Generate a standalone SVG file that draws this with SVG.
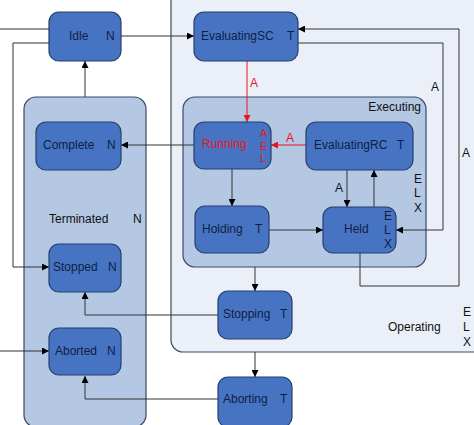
<svg xmlns="http://www.w3.org/2000/svg" width="474" height="425" viewBox="0 0 474 425">
<defs>
<marker id="ah" viewBox="0 0 10 10" refX="10" refY="5" markerWidth="7" markerHeight="7" orient="auto" markerUnits="userSpaceOnUse"><path d="M0,0 L10,5 L0,10 z" fill="#000"/></marker>
<marker id="ahr" viewBox="0 0 10 10" refX="10" refY="5" markerWidth="7" markerHeight="7" orient="auto" markerUnits="userSpaceOnUse"><path d="M0,0 L10,5 L0,10 z" fill="#e8141c"/></marker>
<style>
text{font-family:"Liberation Sans",Arial,sans-serif;font-size:12px;fill:#0f1e45}
.node{fill:#4774c2;stroke:#253f6e;stroke-width:1.2}
.cont{fill:#b4c7e3;stroke:#3b4a66;stroke-width:1.2}
.op{fill:#ebf0f8;stroke:#3b4a66;stroke-width:1.2}
.c{fill:none;stroke:#333;stroke-width:1}
.cr{fill:none;stroke:#e8141c;stroke-width:1}
.lbl{fill:#111}
.red{fill:#e8141c}
.sm{font-size:11px}
</style>
</defs>
<g id="Operating">
<rect class="op" x="171" y="-12" width="315" height="364" rx="12"/>
<text x="388" y="331" class="lbl">Operating</text>
<text x="463" y="316" class="lbl">E</text>
<text x="463" y="331" class="lbl">L</text>
<text x="463" y="346" class="lbl">X</text>
</g>
<g id="Terminated">
<rect class="cont" x="24" y="97" width="122" height="330" rx="12"/>
<text x="49" y="223" class="lbl">Terminated</text>
<text x="133" y="223" class="lbl">N</text>
</g>
<g id="Executing">
<rect class="cont" x="183" y="97" width="243" height="170" rx="12"/>
<text x="421" y="111" class="lbl" text-anchor="end">Executing</text>
<text x="414" y="183" class="lbl">E</text>
<text x="414" y="197" class="lbl">L</text>
<text x="414" y="212" class="lbl">X</text>
</g>
<g id="connectors">
<path class="c" d="M0,29 H49"/>
<path class="c" d="M49,43 H13 V267 H49" marker-end="url(#ah)"/>
<path class="c" d="M0,351 H49" marker-end="url(#ah)"/>
<path class="c" d="M121,36 H194" marker-end="url(#ah)"/>
<path class="c" d="M85,97 V61" marker-end="url(#ah)"/>
<path class="cr" d="M247,61 V122" marker-end="url(#ahr)"/>
<path class="cr" d="M306,145 H271" marker-end="url(#ahr)"/>
<path class="c" d="M194,145 H121" marker-end="url(#ah)"/>
<path class="c" d="M232,169 V206" marker-end="url(#ah)"/>
<path class="c" d="M269,230 H323" marker-end="url(#ah)"/>
<path class="c" d="M347,170 V207" marker-end="url(#ah)"/>
<path class="c" d="M374,207 V170" marker-end="url(#ah)"/>
<path class="c" d="M298,43 H443 V230 H396" marker-end="url(#ah)"/>
<path class="c" d="M360,253 V286 H459 V29 H298" marker-end="url(#ah)"/>
<path class="c" d="M255,267 V291" marker-end="url(#ah)"/>
<path class="c" d="M255,352 V377" marker-end="url(#ah)"/>
<path class="c" d="M218,315 H85 V292" marker-end="url(#ah)"/>
<path class="c" d="M218,399 H85 V376" marker-end="url(#ah)"/>
<text x="250" y="87" class="red">A</text>
<text x="286" y="142" class="red">A</text>
<text x="335" y="192" class="lbl">A</text>
<text x="431" y="91" class="lbl">A</text>
<text x="462" y="157" class="lbl">A</text>
</g>
<g id="Idle">
<rect class="node" x="49" y="12" width="72" height="49" rx="10"/>
<text x="69" y="40">Idle</text>
<text x="106" y="40">N</text>
</g>
<g id="EvaluatingSC">
<rect class="node" x="194" y="12" width="104" height="49" rx="10"/>
<text x="201" y="40">EvaluatingSC</text>
<text x="287" y="40">T</text>
</g>
<g id="Complete">
<rect class="node" x="36" y="122" width="85" height="48" rx="10"/>
<text x="43" y="149">Complete</text>
<text x="107" y="149">N</text>
</g>
<g id="Running">
<rect class="node" x="194" y="122" width="77" height="47" rx="10" stroke="#d8203a"/>
<text x="202" y="148" class="red">Running</text>
<text x="260" y="137" class="red sm">A</text>
<text x="260" y="149.5" class="red sm">E</text>
<text x="260" y="162" class="red sm">L</text>
</g>
<g id="EvaluatingRC">
<rect class="node" x="306" y="122" width="107" height="48" rx="10"/>
<text x="314" y="149">EvaluatingRC</text>
<text x="397" y="149">T</text>
</g>
<g id="Holding">
<rect class="node" x="195" y="206" width="74" height="47" rx="10"/>
<text x="202" y="233">Holding</text>
<text x="255" y="233">T</text>
</g>
<g id="Held">
<rect class="node" x="323" y="207" width="73" height="46" rx="10"/>
<text x="344" y="233">Held</text>
<text x="384" y="220">E</text>
<text x="384" y="234">L</text>
<text x="384" y="248">X</text>
</g>
<g id="Stopped">
<rect class="node" x="49" y="244" width="72" height="48" rx="10"/>
<text x="53" y="271">Stopped</text>
<text x="108" y="271">N</text>
</g>
<g id="Stopping">
<rect class="node" x="218" y="291" width="74" height="48" rx="10"/>
<text x="223" y="318">Stopping</text>
<text x="280" y="318">T</text>
</g>
<g id="Aborted">
<rect class="node" x="49" y="328" width="72" height="47" rx="10"/>
<text x="55" y="355">Aborted</text>
<text x="107" y="355">N</text>
</g>
<g id="Aborting">
<rect class="node" x="218" y="377" width="74" height="50" rx="10"/>
<text x="223" y="403">Aborting</text>
<text x="280" y="403">T</text>
</g>
</svg>
